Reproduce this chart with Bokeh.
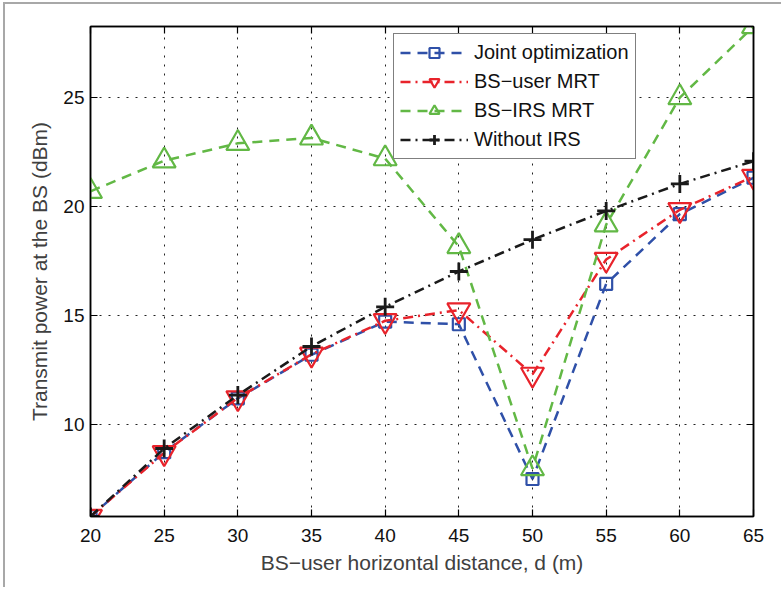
from bokeh.plotting import figure
from bokeh.models import LinearAxis, FixedTicker, Range1d
from bokeh.embed import file_html
from bokeh.resources import INLINE

# ---- data ----
distance = [20, 25, 30, 35, 40, 45, 50, 55, 60, 65]
joint_opt = [5.78, 8.73, 11.2, 13.2, 14.72, 14.6, 7.5, 16.45, 19.65, 21.32]
bs_user_mrt = [5.78, 8.7, 11.22, 13.22, 14.76, 15.25, 12.3, 17.57, 19.85, 21.38]
bs_irs_mrt = [20.7, 22.1, 22.9, 23.15, 22.2, 18.17, 7.98, 19.17, 25.0, 28.26]
without_irs = [5.78, 8.9, 11.35, 13.58, 15.4, 17.02, 18.48, 19.8, 21.04, 22.08]

x_ticks = [20, 25, 30, 35, 40, 45, 50, 55, 60, 65]
y_ticks = [10, 15, 20, 25]

FONT = "Liberation Sans"
Y_MIN, Y_MAX = 5.78, 28.26

p = figure(width=778, height=585,
           x_range=Range1d(20, 65), y_range=Range1d(Y_MIN, Y_MAX),
           output_backend="svg", toolbar_location=None,
           min_border_left=85, min_border_right=30,
           min_border_top=22, min_border_bottom=73)
p.styles = {"margin-left": "3px", "margin-top": "2px",
            "border-left": "2px solid #a8a8a8", "border-top": "2px solid #a8a8a8"}
p.background_fill_color = "white"
p.border_fill_color = "white"
p.outline_line_color = "black"
p.outline_line_width = 1.5

# grid
for g in (p.xgrid, p.ygrid):
    g.grid_line_color = "#222222"
    g.grid_line_dash = "2 7"
    g.grid_line_width = 1
p.xgrid.ticker = FixedTicker(ticks=x_ticks)
p.ygrid.ticker = FixedTicker(ticks=y_ticks)

def style_axis(ax, ticks, show_labels=True):
    ax.ticker = FixedTicker(ticks=ticks)
    ax.axis_line_color = "black"
    ax.axis_line_width = 1.5
    ax.major_tick_in = 7
    ax.major_tick_out = 0
    ax.major_tick_line_color = "black"
    ax.major_tick_line_width = 1.2
    ax.minor_tick_line_color = None
    ax.major_label_text_font = FONT
    if show_labels:
        ax.major_label_text_font_size = "19px"
        ax.major_label_text_color = "#111111"
    else:
        ax.major_label_text_font_size = "10px"
        ax.major_label_text_color = None
        ax.major_label_standoff = 0

style_axis(p.xaxis[0], x_ticks)
style_axis(p.yaxis[0], y_ticks)
p.xaxis[0].major_label_standoff = 12
p.yaxis[0].major_label_standoff = 6

for ax, txt, standoff in ((p.yaxis[0], "Transmit power at the BS (dBm)", 9),
                          (p.xaxis[0], "BS\u2212user horizontal distance, d (m)", 6)):
    ax.axis_label = txt
    ax.axis_label_text_font = FONT
    ax.axis_label_text_font_size = "21px"
    ax.axis_label_text_font_style = "normal"
    ax.axis_label_text_color = "#404040"
    ax.axis_label_standoff = standoff

top_ax = LinearAxis()
right_ax = LinearAxis()
style_axis(top_ax, x_ticks, show_labels=False)
style_axis(right_ax, y_ticks, show_labels=False)
p.add_layout(top_ax, "above")
p.add_layout(right_ax, "right")

# series
BLUE = "#2f50a8"
RED = "#e8232b"
GREEN = "#62b845"
BLACK = "#1a1a1a"
LW = 2.5

p.line(distance, joint_opt, color=BLUE, line_width=LW, line_dash="10 7",
       legend_label="Joint optimization")
p.scatter(distance, joint_opt, marker="square", size=12, line_color=BLUE,
          line_width=2.2, fill_color=None, legend_label="Joint optimization")

p.line(distance, bs_user_mrt, color=RED, line_width=LW, line_dash="10 5 2 5",
       legend_label="BS\u2212user MRT")
p.scatter(distance, bs_user_mrt, marker="inverted_triangle", size=23, line_color=RED,
          line_width=2.2, fill_color=None, legend_label="BS\u2212user MRT")

p.line(distance, bs_irs_mrt, color=GREEN, line_width=LW, line_dash="10 7",
       legend_label="BS\u2212IRS MRT")
p.scatter(distance, bs_irs_mrt, marker="triangle", size=23, line_color=GREEN,
          line_width=2.2, fill_color=None, legend_label="BS\u2212IRS MRT")

p.line(distance, without_irs, color=BLACK, line_width=LW, line_dash="10 5 2 5",
       legend_label="Without IRS")
p.scatter(distance, without_irs, marker="cross", size=18, line_color=BLACK,
          line_width=2.8, fill_color=None, legend_label="Without IRS")

lg = p.legend[0]
lg.location = (303, 357)
lg.margin = 0
lg.padding = 6
lg.spacing = 4
lg.label_height = 25
lg.glyph_height = 25
lg.glyph_width = 68
lg.label_standoff = 6
lg.label_text_font = FONT
lg.label_text_font_size = "20px"
lg.label_text_color = "#111111"
lg.border_line_color = "black"
lg.border_line_width = 1.2
lg.background_fill_color = "white"
lg.background_fill_alpha = 1.0

open("out.html", "w").write(file_html(p, INLINE))
